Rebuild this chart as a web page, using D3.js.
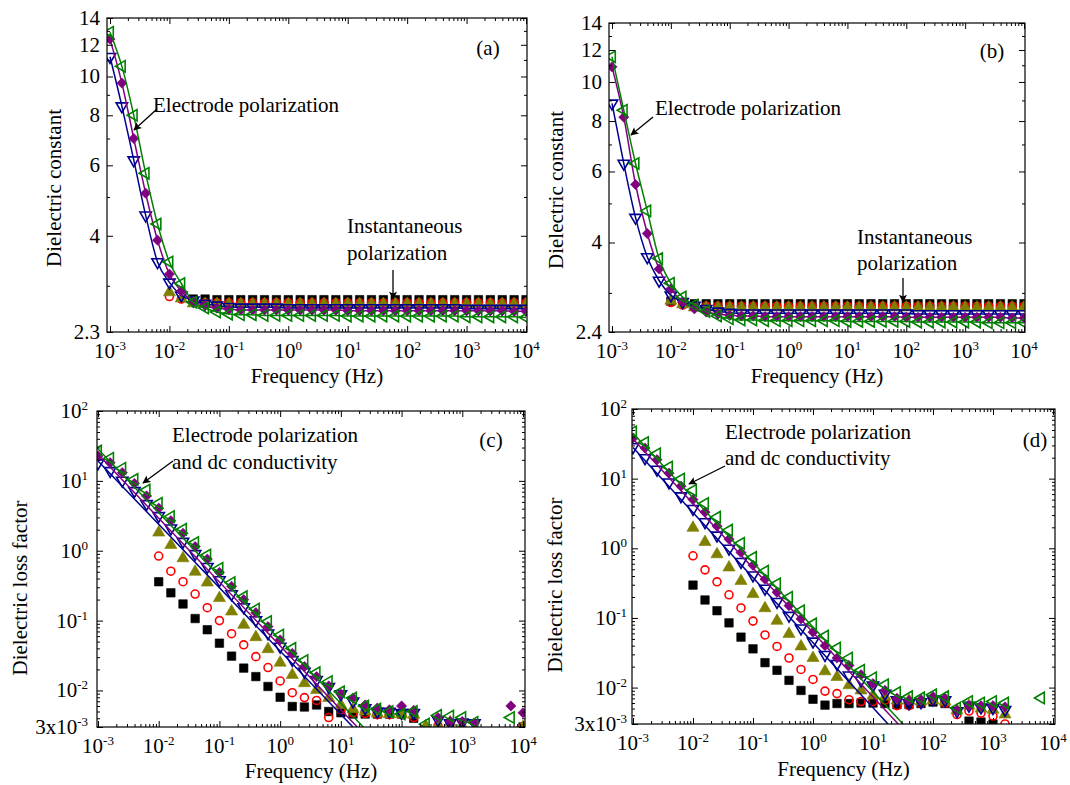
<!DOCTYPE html>
<html>
<head>
<meta charset="utf-8">
<script src="https://cdn.jsdelivr.net/npm/d3@7"></script>
<style>
  body { margin: 0; background: #fff; }
  svg { display: block; font-family: 'Liberation Serif', 'Times New Roman', serif; }
</style>
</head>
<body>
<div id="figure"></div>
<script>
// measured frequencies: 5 points per decade, 1 mHz .. 10 kHz
const freqExp = [-3, -2.8, -2.6, -2.4, -2.2, -2, -1.8, -1.6, -1.4, -1.2,
  -1, -0.8, -0.6, -0.4, -0.2, 0, 0.2, 0.4, 0.6, 0.8,
  1, 1.2, 1.4, 1.6, 1.8, 2, 2.2, 2.4, 2.6, 2.8,
  3, 3.2, 3.4, 3.6, 3.8, 4];

// (a) dielectric constant
const aBlack = [null, null, null, null, null, null, null,
  2.78, 2.78, 2.77, 2.77, 2.77, 2.77, 2.77, 2.77, 2.77, 2.77,
  2.77, 2.77, 2.77, 2.77, 2.77, 2.77, 2.77, 2.77, 2.77, 2.77,
  2.77, 2.77, 2.77, 2.77, 2.77, 2.77, 2.77, 2.77, 2.77];
const aRed = [null, null, null, null, null, 2.82, 2.78,
  2.73, 2.72, 2.72, 2.72, 2.72, 2.72, 2.72, 2.72, 2.72, 2.72,
  2.72, 2.72, 2.72, 2.72, 2.72, 2.72, 2.72, 2.72, 2.72, 2.72,
  2.72, 2.72, 2.72, 2.72, 2.72, 2.72, 2.72, 2.72, 2.72];
const aOlive = [null, null, null, null, null, 2.89, 2.79,
  2.71, 2.70, 2.70, 2.70, 2.70, 2.70, 2.70, 2.70, 2.70, 2.70,
  2.70, 2.70, 2.70, 2.70, 2.70, 2.70, 2.70, 2.70, 2.70, 2.70,
  2.70, 2.70, 2.70, 2.70, 2.70, 2.70, 2.70, 2.70, 2.70];
const aBlue = [11.2, 8.43, 6.18, 4.50, 3.44, 3.06, 2.84, 2.76, 2.71, 2.68,
  2.66, 2.65, 2.65, 2.65, 2.65, 2.64, 2.64, 2.64, 2.64, 2.64,
  2.64, 2.64, 2.64, 2.64, 2.64, 2.64, 2.64, 2.64, 2.64, 2.64,
  2.63, 2.63, 2.63, 2.63, 2.63, 2.63];
const aPurple = [12.4, 9.63, 7.0, 5.11, 3.90, 3.21, 2.91, 2.74, 2.68, 2.64,
  2.62, 2.61, 2.61, 2.61, 2.61, 2.61, 2.61, 2.61, 2.61, 2.61,
  2.60, 2.60, 2.60, 2.60, 2.60, 2.60, 2.60, 2.60, 2.60, 2.60,
  2.60, 2.60, 2.60, 2.60, 2.59, 2.59];
const aGreen = [12.9, 10.6, 8.0, 5.73, 4.28, 3.44, 3.04, 2.73, 2.64, 2.58,
  2.55, 2.54, 2.54, 2.53, 2.53, 2.53, 2.53, 2.53, 2.53, 2.53,
  2.52, 2.52, 2.52, 2.52, 2.52, 2.52, 2.52, 2.52, 2.52, 2.52,
  2.51, 2.51, 2.51, 2.51, 2.51, 2.50];

// (b) dielectric constant
const bBlack = [null, null, null, null, null, 2.86, 2.83,
  2.82, 2.82, 2.82, 2.82, 2.82, 2.82, 2.82, 2.82, 2.82, 2.82,
  2.82, 2.82, 2.82, 2.82, 2.82, 2.82, 2.82, 2.82, 2.82, 2.82,
  2.82, 2.82, 2.82, 2.82, 2.82, 2.82, 2.82, 2.82, 2.82];
const bRed = [null, null, null, null, null, 2.84, 2.80,
  2.78, 2.78, 2.78, 2.78, 2.78, 2.78, 2.78, 2.78, 2.78, 2.78,
  2.78, 2.78, 2.78, 2.78, 2.78, 2.78, 2.78, 2.78, 2.78, 2.78,
  2.78, 2.78, 2.78, 2.78, 2.78, 2.78, 2.78, 2.78, 2.78];
const bOlive = [null, null, null, null, null, 2.87, 2.81,
  2.76, 2.76, 2.76, 2.76, 2.76, 2.76, 2.76, 2.76, 2.76, 2.76,
  2.76, 2.76, 2.76, 2.76, 2.76, 2.76, 2.76, 2.76, 2.76, 2.76,
  2.76, 2.76, 2.76, 2.76, 2.76, 2.76, 2.76, 2.76, 2.76];
const bBlue = [8.85, 6.28, 4.61, 3.68, 3.22, 2.96, 2.85, 2.79, 2.74, 2.70,
  2.68, 2.67, 2.67, 2.67, 2.67, 2.67, 2.67, 2.67, 2.67, 2.67,
  2.67, 2.67, 2.67, 2.67, 2.67, 2.67, 2.66, 2.66, 2.66, 2.66,
  2.66, 2.66, 2.66, 2.66, 2.66, 2.66];
const bPurple = [10.9, 8.18, 5.57, 4.21, 3.44, 3.07, 2.85, 2.74, 2.69, 2.66,
  2.64, 2.63, 2.63, 2.62, 2.62, 2.62, 2.62, 2.62, 2.62, 2.62,
  2.62, 2.62, 2.62, 2.62, 2.62, 2.61, 2.61, 2.61, 2.61, 2.61,
  2.61, 2.61, 2.61, 2.61, 2.60, 2.60];
const bGreen = [11.55, 8.51, 6.28, 4.79, 3.65, 3.17, 2.93, 2.80, 2.70, 2.63,
  2.59, 2.57, 2.57, 2.56, 2.56, 2.56, 2.56, 2.56, 2.56, 2.56,
  2.55, 2.55, 2.55, 2.55, 2.55, 2.55, 2.54, 2.54, 2.54, 2.54,
  2.54, 2.54, 2.53, 2.53, 2.53, 2.53];

// (c) dielectric loss factor
const cBlack = [null, null, null, null, null, 0.36, 0.25, 0.173, 0.107, 0.074,
  0.0475, 0.031, 0.0209, 0.0158, 0.0114, 0.0080, 0.0059, 0.0058, 0.0062, 0.0050,
  0.0048, 0.0046, 0.0046, 0.0046, 0.0046, 0.0046, 0.0040, null, null, null,
  null, null, null, null, null, 0.0030];
const cRed = [null, null, null, null, null, 0.84, 0.51, 0.36, 0.24, 0.153,
  0.10, 0.065, 0.045, 0.0305, 0.0213, 0.0137, 0.0093, 0.0079, 0.0072, 0.0041,
  0.0053, 0.0048, 0.0047, 0.0045, 0.0045, 0.0045, 0.0041, null, 0.0031, null,
  null, null, null, null, null, 0.0030];
const cOlive = [null, null, null, null, null, 1.82, 1.21, 0.78, 0.50, 0.35,
  0.21, 0.135, 0.087, 0.058, 0.039, 0.025, 0.0167, 0.0127, 0.0102, 0.0078,
  0.0062, 0.0054, 0.0050, 0.0047, 0.0046, 0.0046, 0.0045, 0.0031, 0.0031, 0.0035,
  0.0031, null, null, null, null, 0.0030];
const cBlue = [17.9, 13.9, 10.1, 7.18, 4.68, 3.15, 2.10, 1.35, 0.90, 0.59,
  0.38, 0.24, 0.156, 0.102, 0.066, 0.0425, 0.0274, 0.0186, 0.0142, 0.0113,
  0.0089, 0.0070, 0.0056, 0.0050, 0.0050, 0.0048, 0.0048, null, 0.0038, 0.0034,
  0.0035, 0.0034, null, null, null, null];
const cPurple = [22.7, 18.2, 13.1, 9.2, 6.08, 4.06, 2.69, 1.78, 1.15, 0.76,
  0.49, 0.31, 0.20, 0.13, 0.082, 0.053, 0.034, 0.022, 0.0158, 0.0116,
  0.0089, 0.0078, 0.0062, 0.0056, 0.0053, 0.0060, 0.0052, null, 0.0041, 0.0036,
  0.0036, 0.0034, null, null, 0.0060, 0.0048];
const cGreen = [26.8, 21, 15.1, 10.5, 7.4, 4.79, 3.08, 2.03, 1.31, 0.87,
  0.56, 0.35, 0.22, 0.146, 0.097, 0.062, 0.040, 0.0268, 0.018, 0.0134,
  0.0096, 0.0078, 0.0060, 0.0054, 0.0050, 0.0046, 0.0050, 0.0033, 0.0044, 0.0043,
  0.0041, 0.0035, null, null, 0.0041, null];
// fitted lines, [frequency, loss factor] end points
const cFitBlue = [[0.001, 19.3], [15.8, 0.003]];
const cFitPurple = [[0.001, 24.0], [18.6, 0.003]];
const cFitGreen = [[0.001, 28.6], [23.4, 0.003]];

// (d) dielectric loss factor
const dBlack = [null, null, null, null, null, 0.296, 0.181, 0.127, 0.085, 0.053,
  0.036, 0.0228, 0.0177, 0.0127, 0.0091, 0.0068, 0.0056, 0.0059, 0.0059, 0.0060,
  0.0060, 0.0059, 0.0057, 0.0057, 0.0059, 0.0062, 0.0059, null, 0.0033, 0.0032,
  0.0030, null, null, null, null, null];
const dRed = [null, null, null, null, null, 0.78, 0.49, 0.33, 0.215, 0.139,
  0.09, 0.057, 0.039, 0.0266, 0.0182, 0.0131, 0.0089, 0.0082, 0.0067, 0.0063,
  0.0063, 0.0066, 0.0055, 0.0055, 0.0060, 0.0065, 0.0060, 0.0041, 0.0046, 0.0043,
  0.0039, 0.0030, null, null, null, null];
const dOlive = [null, null, null, null, null, 1.97, 1.23, 0.82, 0.53, 0.34,
  0.22, 0.138, 0.091, 0.059, 0.039, 0.0266, 0.0171, 0.0142, 0.0108, 0.0091,
  0.0077, 0.0074, 0.0065, 0.0065, 0.0063, 0.0066, 0.0063, 0.0047, 0.0055, 0.0050,
  0.0048, 0.0041, null, null, null, null];
const dBlue = [28.4, 19.8, 13.5, 8.85, 5.6, 3.7, 2.38, 1.53, 0.99, 0.64,
  0.41, 0.265, 0.171, 0.108, 0.071, 0.046, 0.0296, 0.022, 0.015, 0.0127,
  0.0108, 0.0082, 0.0066, 0.0060, 0.0062, 0.0068, 0.0066, 0.0046, 0.0055, 0.0052,
  0.0051, 0.0048, null, null, null, null];
const dPurple = [38, 27.5, 18.7, 12.0, 7.8, 5.0, 3.3, 2.08, 1.35, 0.87,
  0.57, 0.36, 0.233, 0.15, 0.097, 0.0625, 0.040, 0.0266, 0.0208, 0.0153,
  0.0114, 0.0091, 0.0070, 0.0065, 0.0067, 0.0074, 0.0070, 0.0047, 0.0055, 0.0055,
  0.0055, 0.0053, null, null, null, null];
const dGreen = [47, 33, 22.8, 14.7, 9.9, 6.8, 4.4, 2.8, 1.82, 1.18,
  0.74, 0.47, 0.31, 0.198, 0.127, 0.082, 0.055, 0.037, 0.0265, 0.0177,
  0.0138, 0.011, 0.0085, 0.0074, 0.0071, 0.0079, 0.0074, 0.0051, 0.0063, 0.0060,
  0.0063, 0.0060, null, null, 0.0071, null];
const dFitBlue = [[0.001, 28], [17.8, 0.003]];
const dFitPurple = [[0.001, 37], [26.3, 0.003]];
const dFitGreen = [[0.001, 45], [31.6, 0.003]];

// axis ticks
const xMajorExp = [-3, -2, -1, 0, 1, 2, 3, 4];
const yMajorA = [2.3, 4, 6, 8, 10, 12, 14];
const yMajorB = [2.4, 4, 6, 8, 10, 12, 14];
const yMinorConst = [3, 5, 7, 9, 11, 13];
const yLabelA = [['2.3', ''], ['4', ''], ['6', ''], ['8', ''], ['10', ''], ['12', ''], ['14', '']];
const yLabelB = [['2.4', ''], ['4', ''], ['6', ''], ['8', ''], ['10', ''], ['12', ''], ['14', '']];
const yMajorLoss = [0.003, 0.01, 0.1, 1, 10, 100];
const yLabelLoss = [['3x10', '-3'], ['10', '-2'], ['10', '-1'], ['10', '0'], ['10', '1'], ['10', '2']];

const frequency = freqExp.map((e) => Math.pow(10, e));

const markerStyles = {
  black: {color: '#000000', symbol: d3.symbolSquare, size: 72, rotate: 0, filled: true},
  red: {color: '#ff0000', symbol: d3.symbolCircle, size: 50, rotate: 0, filled: false},
  olive: {color: '#808000', symbol: d3.symbolTriangle, size: 64, rotate: 0, filled: true},
  blue: {color: '#000090', symbol: d3.symbolTriangle, size: 56, rotate: 180, filled: false},
  purple: {color: '#800080', symbol: d3.symbolSquare, size: 52, rotate: 45, filled: true},
  green: {color: '#008000', symbol: d3.symbolTriangle, size: 56, rotate: -90, filled: false}
};

class DielectricPanel {
  constructor (svg, cfg) {
    this.svg = svg;
    this.cfg = cfg;
    this.box = cfg.box;
    this.xScale = null;
    this.yScale = null;
    this.group = null;
  }

  render () {
    this.group = this.svg.append('g').attr('class', 'c-panel');
    this.initScales();
    this.drawSeries();
    this.drawFrame();
    this.drawTicks();
    this.drawTickLabels();
    this.drawTitles();
    this.drawNotes();
  }

  initScales () {
    this.xScale = d3.scaleLog().domain([1e-3, 1e4]).range(this.cfg.xRange);
    this.yScale = d3.scaleLog().domain(this.cfg.yDomain).range([this.box.bottom, this.box.top]);
  }

  drawSeries () {
    let clipId = 'clip-' + this.cfg.id;

    this.svg.select('defs')
      .append('clipPath')
      .attr('id', clipId)
      .append('rect')
      .attr('x', this.box.left)
      .attr('y', this.box.top)
      .attr('width', this.box.right - this.box.left)
      .attr('height', this.box.bottom - this.box.top);

    let plot = this.group.append('g').attr('clip-path', 'url(#' + clipId + ')');
    let line = d3.line()
      .x((d) => this.xScale(d.f))
      .y((d) => this.yScale(d.v));

    this.cfg.series.forEach((s) => {
      if (s.values.length !== frequency.length) {
        throw new Error('series ' + this.cfg.id + '/' + s.key + ' has ' + s.values.length + ' values');
      }

      let style = markerStyles[s.key];
      let points = frequency
        .map((f, i) => ({f: f, v: s.values[i]}))
        .filter((d) => d.v !== null);

      plot.selectAll(null)
        .data(points)
        .enter()
        .append('path')
        .attr('d', d3.symbol().type(style.symbol).size(style.size))
        .attr('transform', (d) => {
          return 'translate(' + this.xScale(d.f) + ',' + this.yScale(d.v) + ') rotate(' + style.rotate + ')';
        })
        .style('fill', style.filled ? style.color : 'none')
        .style('stroke', style.color)
        .style('stroke-width', style.filled ? 0.6 : 1.6);

      if (this.cfg.lineThroughData && s.line) {
        plot.append('path')
          .datum(points)
          .attr('d', line.curve(d3.curveMonotoneX))
          .style('fill', 'none')
          .style('stroke', style.color)
          .style('stroke-width', 1.5);
      }
    });

    (this.cfg.fits || []).forEach((fit) => {
      plot.append('path')
        .datum(fit.points.map((p) => ({f: p[0], v: p[1]})))
        .attr('d', line.curve(d3.curveLinear))
        .style('fill', 'none')
        .style('stroke', markerStyles[fit.key].color)
        .style('stroke-width', 1.5);
    });
  }

  drawFrame () {
    this.group.append('rect')
      .attr('x', this.box.left)
      .attr('y', this.box.top)
      .attr('width', this.box.right - this.box.left)
      .attr('height', this.box.bottom - this.box.top)
      .style('fill', 'none')
      .style('stroke', '#000')
      .style('stroke-width', 1.2);
  }

  addAxis (axis, transform) {
    this.group.append('g')
      .attr('class', 'c-axis')
      .attr('transform', transform)
      .call(axis.tickSizeOuter(0).tickFormat(''))
      .call((g) => g.select('.domain').remove())
      .call((g) => g.selectAll('line').style('stroke', '#000').style('stroke-width', 1));
  }

  drawTicks () {
    let xMajor = xMajorExp.map((e) => Math.pow(10, e));
    let xMinor = [];
    xMajorExp.slice(0, -1).forEach((e) => {
      for (let m = 2; m <= 9; m++) {
        xMinor.push(m * Math.pow(10, e));
      }
    });

    let yMinor = this.cfg.yMinor;
    let b = this.box;

    [[xMajor, 6], [xMinor, 3]].forEach((set) => {
      this.addAxis(d3.axisBottom(this.xScale).tickValues(set[0]).tickSize(-set[1]), 'translate(0,' + b.bottom + ')');
      this.addAxis(d3.axisTop(this.xScale).tickValues(set[0]).tickSize(-set[1]), 'translate(0,' + b.top + ')');
    });

    [[this.cfg.yMajor, 6], [yMinor, 3]].forEach((set) => {
      this.addAxis(d3.axisLeft(this.yScale).tickValues(set[0]).tickSize(-set[1]), 'translate(' + b.left + ',0)');
      this.addAxis(d3.axisRight(this.yScale).tickValues(set[0]).tickSize(-set[1]), 'translate(' + b.right + ',0)');
    });
  }

  writeLabel (x, y, anchor, base, sup) {
    let text = this.group.append('text')
      .attr('x', x)
      .attr('y', y)
      .attr('text-anchor', anchor)
      .style('font-size', '21px')
      .style('fill', '#000');

    text.append('tspan').text(base);

    if (sup) {
      text.append('tspan')
        .attr('dy', -8)
        .style('font-size', '13px')
        .text(sup);
    }
  }

  drawTickLabels () {
    xMajorExp.forEach((e) => {
      this.writeLabel(this.xScale(Math.pow(10, e)), this.cfg.xLabelY, 'middle', '10', String(e));
    });

    this.cfg.yMajor.forEach((v, i) => {
      let label = this.cfg.yLabels[i];
      this.writeLabel(this.box.left - this.cfg.yLabelGap, this.yScale(v) + 7, 'end', label[0], label[1]);
    });
  }

  drawTitles () {
    this.group.append('text')
      .attr('x', (this.box.left + this.box.right) / 2)
      .attr('y', this.cfg.xTitleY)
      .attr('text-anchor', 'middle')
      .style('font-size', '21px')
      .text('Frequency (Hz)');

    this.group.append('text')
      .attr('transform', 'translate(' + this.cfg.yTitlePos[0] + ',' + this.cfg.yTitlePos[1] + ') rotate(-90)')
      .attr('text-anchor', 'middle')
      .style('font-size', '21px')
      .text(this.cfg.yTitle);
  }

  drawNotes () {
    let notes = this.cfg.notes;

    notes.texts.forEach((t) => {
      this.group.append('text')
        .attr('x', t.x)
        .attr('y', t.y)
        .attr('text-anchor', t.anchor || 'start')
        .style('font-size', '21px')
        .text(t.text);
    });

    notes.arrows.forEach((a) => {
      this.group.append('line')
        .attr('x1', a[0])
        .attr('y1', a[1])
        .attr('x2', a[2])
        .attr('y2', a[3])
        .style('stroke', '#000')
        .style('stroke-width', 1.3)
        .attr('marker-end', 'url(#arrowHead)');
    });
  }
}

const panels = [
  {
    id: 'a',
    box: {left: 107, top: 18, right: 527, bottom: 332},
    xRange: [110, 526],
    yDomain: [2.3, 14],
    yMajor: yMajorA,
    yMinor: yMinorConst,
    yLabels: yLabelA,
    yLabelGap: 7,
    xLabelY: 358,
    xTitleY: 383,
    yTitle: 'Dielectric constant',
    yTitlePos: [61, 188],
    lineThroughData: true,
    series: [
      {key: 'black', values: aBlack}, {key: 'red', values: aRed}, {key: 'olive', values: aOlive},
      {key: 'blue', values: aBlue, line: true}, {key: 'purple', values: aPurple, line: true},
      {key: 'green', values: aGreen, line: true}
    ],
    notes: {
      texts: [
        {text: 'Electrode polarization', x: 153, y: 112},
        {text: 'Instantaneous', x: 347, y: 233},
        {text: 'polarization', x: 347, y: 260},
        {text: '(a)', x: 488, y: 55, anchor: 'middle'}
      ],
      arrows: [[157, 109, 134, 130], [393, 270, 393, 299]]
    }
  },
  {
    id: 'b',
    box: {left: 609, top: 23, right: 1025, bottom: 332},
    xRange: [612, 1024],
    yDomain: [2.4, 14],
    yMajor: yMajorB,
    yMinor: yMinorConst,
    yLabels: yLabelB,
    yLabelGap: 7,
    xLabelY: 358,
    xTitleY: 383,
    yTitle: 'Dielectric constant',
    yTitlePos: [563, 190],
    lineThroughData: true,
    series: [
      {key: 'black', values: bBlack}, {key: 'red', values: bRed}, {key: 'olive', values: bOlive},
      {key: 'blue', values: bBlue, line: true}, {key: 'purple', values: bPurple, line: true},
      {key: 'green', values: bGreen, line: true}
    ],
    notes: {
      texts: [
        {text: 'Electrode polarization', x: 655, y: 115},
        {text: 'Instantaneous', x: 857, y: 244},
        {text: 'polarization', x: 857, y: 270},
        {text: '(b)', x: 992, y: 58, anchor: 'middle'}
      ],
      arrows: [[653, 117, 631, 135], [903, 278, 903, 302]]
    }
  },
  {
    id: 'c',
    box: {left: 97, top: 411, right: 525, bottom: 727},
    xRange: [98, 523],
    yDomain: [0.003, 100],
    yMajor: yMajorLoss,
    yMinor: null,
    yLabels: yLabelLoss,
    yLabelGap: 9,
    xLabelY: 753,
    xTitleY: 778,
    yTitle: 'Dielectric loss factor',
    yTitlePos: [27, 588],
    lineThroughData: false,
    series: [
      {key: 'black', values: cBlack}, {key: 'red', values: cRed}, {key: 'olive', values: cOlive},
      {key: 'blue', values: cBlue}, {key: 'purple', values: cPurple}, {key: 'green', values: cGreen}
    ],
    fits: [
      {key: 'blue', points: cFitBlue}, {key: 'purple', points: cFitPurple}, {key: 'green', points: cFitGreen}
    ],
    notes: {
      texts: [
        {text: 'Electrode polarization', x: 172, y: 442},
        {text: 'and dc conductivity', x: 172, y: 469},
        {text: '(c)', x: 491, y: 447, anchor: 'middle'}
      ],
      arrows: [[173, 461, 143, 483]]
    }
  },
  {
    id: 'd',
    box: {left: 632, top: 409, right: 1055, bottom: 724},
    xRange: [633, 1053],
    yDomain: [0.003, 100],
    yMajor: yMajorLoss,
    yMinor: null,
    yLabels: yLabelLoss,
    yLabelGap: 5,
    xLabelY: 750,
    xTitleY: 776,
    yTitle: 'Dielectric loss factor',
    yTitlePos: [562, 585],
    lineThroughData: false,
    series: [
      {key: 'black', values: dBlack}, {key: 'red', values: dRed}, {key: 'olive', values: dOlive},
      {key: 'blue', values: dBlue}, {key: 'purple', values: dPurple}, {key: 'green', values: dGreen}
    ],
    fits: [
      {key: 'blue', points: dFitBlue}, {key: 'purple', points: dFitPurple}, {key: 'green', points: dFitGreen}
    ],
    notes: {
      texts: [
        {text: 'Electrode polarization', x: 725, y: 439},
        {text: 'and dc conductivity', x: 725, y: 465},
        {text: '(d)', x: 1035, y: 447, anchor: 'middle'}
      ],
      arrows: [[725, 466, 689, 484]]
    }
  }
];

// minor ticks of the log loss axis: 2..9 within each decade
const lossMinor = [];
[-3, -2, -1, 0, 1].forEach((e) => {
  for (let m = 2; m <= 9; m++) {
    let v = m * Math.pow(10, e);
    if (v > 0.003 && v < 100) {
      lossMinor.push(v);
    }
  }
});

const svg = d3.select('#figure')
  .append('svg')
  .attr('width', 1070)
  .attr('height', 785);

svg.append('rect').attr('width', 1070).attr('height', 785).style('fill', '#fff');

svg.append('defs')
  .append('marker')
  .attr('id', 'arrowHead')
  .attr('viewBox', '0 0 10 10')
  .attr('refX', 9)
  .attr('refY', 5)
  .attr('markerUnits', 'userSpaceOnUse')
  .attr('markerWidth', 10)
  .attr('markerHeight', 8)
  .attr('orient', 'auto')
  .append('path')
  .attr('d', 'M0,0 L10,5 L0,10 L2,5 z')
  .style('fill', '#000');

panels.forEach((cfg) => {
  if (!cfg.yMinor) {
    cfg.yMinor = lossMinor;
  }
  new DielectricPanel(svg, cfg).render();
});
</script>
</body>
</html>
